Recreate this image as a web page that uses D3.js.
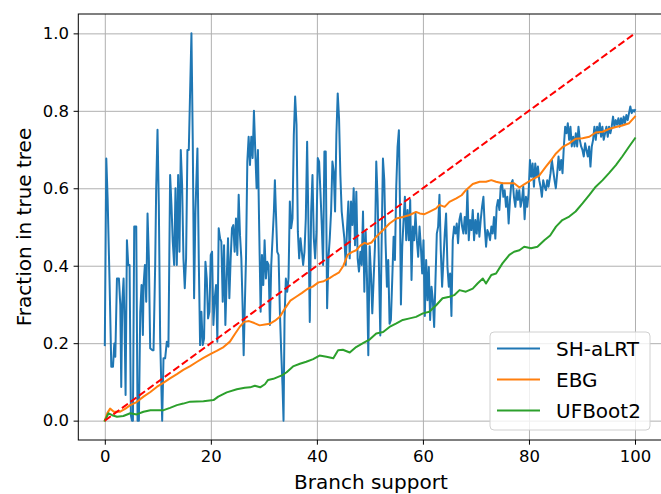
<!DOCTYPE html>
<html>
<head>
<meta charset="utf-8">
<script src="https://cdn.jsdelivr.net/npm/d3@7"></script>
<style>
  html, body { margin: 0; padding: 0; background: #fff; }
  svg { display: block; font-family: "DejaVu Sans", sans-serif; }
</style>
</head>
<body>
<svg id="chart" width="661" height="494"></svg>
<script>
// Branch support (x) vs fraction of branches found in the true tree (y)
const seriesNames = ["SH-aLRT", "EBG", "UFBoot2"];
const seriesColors = ["#1f77b4", "#ff7f0e", "#2ca02c"];
const xTicks = [0, 20, 40, 60, 80, 100];
const yTicks = [0.0, 0.2, 0.4, 0.6, 0.8, 1.0];

const shalrt = [
  [0,0.195],[0.28,0.677],[0.53,0.574],[0.91,0.35],[1.22,0.139],[1.54,0.139],[1.79,0.199],[1.98,0.165],[2.29,0.367],[2.66,0.367],
  [2.92,0.298],[3.1,0.087],[3.29,0.303],[3.54,0.367],[3.73,0.247],[3.92,0.066],[4.17,0.466],[4.42,0.402],[4.67,0.402],[4.92,0.014],
  [5.11,0],[5.3,0],[5.55,0.501],[5.93,0.501],[6.18,0],[6.43,0],[6.68,0.281],[6.93,0.35],[7.18,0.221],[7.31,0.35],
  [7.56,0.402],[7.81,0.307],[8.06,0.535],[8.31,0.419],[8.56,0.187],[8.94,0.182],[9.19,0.182],[9.5,0.402],[9.69,0.6],[9.94,0.751],
  [10.19,0.557],[10.44,0.212],[10.82,0],[11.07,0.161],[11.38,0.161],[11.7,0.204],[12.0,0.191],[12.32,0.634],[12.57,0.557],[12.82,0.462],
  [13.08,0.402],[13.33,0.6],[13.58,0.402],[13.83,0.634],[14.08,0.436],[14.33,0.699],[14.58,0.609],[14.83,0.419],[15.08,0.342],[15.33,0.419],
  [15.58,0.699],[15.84,0.699],[16.09,0.85],[16.34,1.0],[16.59,0.72],[16.84,0.316],[17.09,0.54],[17.47,0.703],[17.72,0.419],[17.97,0.195],
  [18.22,0.281],[18.47,0.195],[18.72,0.212],[18.98,0.41],[19.23,0.367],[19.48,0.264],[19.73,0.281],[19.98,0.428],[20.23,0.436],[20.48,0.247],
  [20.73,0.316],[20.98,0.35],[21.23,0.204],[21.48,0.497],[21.73,0.471],[21.98,0.462],[22.24,0.307],[22.49,0.453],[22.74,0.247],[22.99,0.367],
  [23.24,0.471],[23.49,0.316],[23.74,0.419],[23.99,0.497],[24.24,0.505],[24.49,0.436],[24.74,0.522],[24.99,0.428],[25.25,0.583],[25.5,0.479],
  [25.75,0.419],[26.0,0.29],[26.19,0.169],[26.38,0.281],[26.63,0.419],[26.88,0.669],[27.13,0.733],[27.38,0.66],[27.63,0.733],[27.88,0.678],
  [28.13,0.8],[28.38,0.695],[28.63,0.6],[28.88,0.699],[29.13,0.488],[29.39,0.281],[29.64,0.428],[29.89,0.35],[30.14,0.466],[30.39,0.367],
  [30.64,0.41],[30.89,0.402],[31.14,0.247],[31.39,0.402],[31.64,0.471],[31.89,0.54],[32.08,0.621],[32.27,0.54],[32.52,0.436],[32.77,0.428],
  [33.02,0.281],[33.27,0.178],[33.52,0.09],[33.71,0],[33.9,0.264],[34.15,0.367],[34.4,0.333],[34.65,0.367],[34.9,0.566],[35.15,0.497],
  [35.4,0.522],[35.65,0.738],[35.9,0.837],[36.16,0.764],[36.41,0.488],[36.66,0.419],[36.91,0.471],[37.16,0.436],[37.41,0.402],[37.66,0.436],
  [37.91,0.522],[38.16,0.72],[38.41,0.505],[38.66,0.255],[38.92,0.54],[39.17,0.634],[39.42,0.471],[39.67,0.419],[39.92,0.488],[40.17,0.678],
  [40.42,0.669],[40.67,0.591],[40.92,0.505],[41.17,0.402],[41.42,0.695],[41.67,0.695],[41.93,0.29],[42.18,0.419],[42.43,0.471],[42.68,0.54],
  [42.93,0.669],[43.18,0.643],[43.43,0.54],[43.68,0.738],[43.93,0.845],[44.18,0.781],[44.43,0.634],[44.68,0.54],[44.93,0.505],[45.18,0.471],
  [45.44,0.402],[45.69,0.497],[45.94,0.566],[46.19,0.419],[46.44,0.566],[46.69,0.505],[46.94,0.6],[47.19,0.453],[47.44,0.591],[47.69,0.419],
  [47.94,0.385],[48.2,0.436],[48.45,0.402],[48.7,0.54],[48.95,0.333],[49.2,0.488],[49.45,0.367],[49.7,0.169],[49.95,0.45],[50.2,0.38],
  [50.45,0.277],[50.7,0.363],[50.95,0.449],[51.2,0.669],[51.46,0.57],[51.71,0.397],[51.96,0.22],[52.21,0.458],[52.46,0.677],[52.71,0.621],
  [52.96,0.458],[53.21,0.346],[53.46,0.415],[53.71,0.25],[53.96,0.26],[54.21,0.363],[54.47,0.475],[54.72,0.415],[54.97,0.604],[55.22,0.707],
  [55.47,0.75],[55.66,0.57],[55.85,0.3],[56.1,0.449],[56.35,0.518],[56.6,0.578],[56.85,0.466],[57.1,0.544],[57.35,0.466],[57.6,0.57],
  [57.85,0.363],[58.1,0.501],[58.35,0.466],[58.6,0.535],[58.86,0.466],[59.11,0.423],[59.36,0.501],[59.61,0.449],[59.86,0.38],[60.11,0.466],
  [60.36,0.27],[60.61,0.415],[60.86,0.311],[61.11,0.397],[61.36,0.26],[61.62,0.346],[61.87,0.311],[62.12,0.242],[62.37,0.363],[62.62,0.483],
  [62.87,0.501],[63.12,0.583],[63.37,0.44],[63.62,0.346],[63.87,0.415],[64.12,0.483],[64.37,0.535],[64.63,0.397],[64.88,0.346],[65.13,0.38],
  [65.38,0.27],[65.63,0.466],[65.88,0.501],[66.13,0.483],[66.38,0.509],[66.63,0.458],[66.88,0.518],[67.13,0.535],[67.39,0.501],[67.64,0.483],
  [67.89,0.526],[68.14,0.483],[68.39,0.595],[68.65,0.466],[68.9,0.518],[69.15,0.492],[69.4,0.544],[69.65,0.466],[69.9,0.518],[70.15,0.483],
  [70.4,0.535],[70.65,0.475],[70.9,0.518],[71.15,0.552],[71.41,0.578],[71.66,0.501],[71.91,0.449],[72.16,0.492],[72.41,0.483],[72.66,0.466],
  [72.91,0.501],[73.16,0.483],[73.41,0.526],[73.66,0.47],[73.91,0.552],[74.16,0.57],[74.42,0.544],[74.67,0.604],[74.92,0.613],[75.17,0.578],
  [75.42,0.595],[75.67,0.552],[75.92,0.578],[76.17,0.509],[76.42,0.57],[76.67,0.613],[76.92,0.621],[77.17,0.578],[77.43,0.552],[77.68,0.595],
  [77.93,0.57],[78.18,0.595],[78.43,0.552],[78.68,0.57],[78.93,0.604],[79.18,0.52],[79.43,0.578],[79.68,0.552],[79.93,0.587],[80.19,0.673],
  [80.44,0.63],[80.69,0.664],[80.94,0.604],[81.19,0.664],[81.44,0.63],[81.69,0.656],[81.94,0.621],[82.19,0.604],[82.44,0.578],[82.69,0.621],
  [82.95,0.604],[83.2,0.595],[83.45,0.621],[83.7,0.604],[84.07,0.639],[84.32,0.673],[84.57,0.647],[84.82,0.621],[85.07,0.6],[85.33,0.639],
  [85.58,0.682],[85.83,0.647],[86.08,0.673],[86.33,0.639],[86.58,0.708],[86.83,0.759],[87.08,0.742],[87.33,0.768],[87.58,0.725],[87.83,0.759],
  [88.08,0.708],[88.34,0.733],[88.59,0.708],[88.84,0.742],[89.09,0.708],[89.34,0.759],[89.59,0.725],[89.84,0.708],[90.09,0.699],[90.34,0.682],
  [90.59,0.716],[90.84,0.699],[91.1,0.682],[91.35,0.708],[91.6,0.656],[91.85,0.708],[92.1,0.725],[92.35,0.759],[92.6,0.725],[92.85,0.759],
  [93.1,0.742],[93.35,0.768],[93.6,0.733],[93.85,0.759],[94.1,0.725],[94.36,0.742],[94.61,0.759],[94.86,0.733],[95.11,0.759],[95.36,0.742],
  [95.61,0.759],[95.86,0.785],[96.11,0.759],[96.36,0.776],[96.61,0.764],[96.87,0.781],[97.12,0.759],[97.37,0.781],[97.62,0.764],[97.87,0.785],
  [98.12,0.768],[98.37,0.789],[98.62,0.776],[98.87,0.794],[99.12,0.811],[99.37,0.794],[99.62,0.802],[99.87,0.798],[100,0.802]
];

const ebg = [
  [0,0],[0.5,0.02],[1,0.031],[1.7,0.023],[2.9,0.023],[3.9,0.031],[4.8,0.04],[6,0.048],[7.3,0.062],[8.6,0.074],
  [9.8,0.087],[11.1,0.098],[12.3,0.109],[13.6,0.12],[14.8,0.131],[16.1,0.141],[17.4,0.152],[18.6,0.162],[19.9,0.172],[21.1,0.18],
  [22.4,0.19],[23.6,0.204],[24.6,0.225],[25.5,0.243],[26.3,0.255],[27.2,0.257],[28.2,0.252],[29.2,0.246],[30.2,0.248],[31.1,0.25],
  [32.1,0.258],[33,0.268],[34,0.29],[35,0.31],[36.1,0.32],[37.2,0.33],[38.2,0.34],[39.2,0.346],[40.3,0.357],[41.3,0.36],
  [42.4,0.368],[43.3,0.376],[44.2,0.383],[45,0.4],[45.8,0.428],[46.6,0.435],[47.4,0.44],[48.2,0.452],[49,0.459],[49.6,0.456],
  [50.3,0.46],[51.2,0.475],[52.5,0.492],[53.7,0.509],[55,0.522],[56.2,0.526],[57.5,0.531],[58.7,0.539],[59.4,0.535],[60.3,0.533],
  [61.2,0.539],[62.5,0.548],[63.1,0.557],[64.1,0.552],[65,0.565],[66.3,0.574],[67.3,0.582],[68.1,0.595],[69.4,0.611],[70.7,0.617],
  [71.9,0.617],[72.9,0.621],[73.8,0.617],[75,0.613],[76.3,0.613],[77.2,0.613],[78.2,0.602],[79.1,0.61],[80.4,0.621],[81.9,0.632],
  [83.2,0.656],[84.2,0.673],[85.1,0.69],[86.3,0.706],[87.6,0.716],[88.8,0.728],[90.1,0.729],[91.4,0.733],[92.6,0.744],[93.9,0.746],
  [95.1,0.753],[96.4,0.758],[97.6,0.762],[98.9,0.768],[100,0.785]
];

const ufboot2 = [
  [0,0],[0.7,0.019],[1.4,0.014],[2.3,0.01],[3.5,0.012],[4.8,0.019],[6,0.016],[7.3,0.023],[8.6,0.027],[9.8,0.027],
  [11.1,0.027],[12.3,0.033],[13.6,0.04],[14.8,0.044],[16.1,0.049],[18.6,0.05],[20.5,0.053],[21.4,0.062],[23,0.073],[24.9,0.081],
  [26.4,0.085],[27.4,0.086],[28.3,0.09],[29.3,0.086],[30.2,0.094],[30.8,0.105],[31.8,0.108],[32.7,0.113],[33.4,0.117],[34.3,0.125],
  [35.5,0.14],[36.8,0.147],[38,0.152],[39.3,0.159],[40.5,0.168],[41.8,0.165],[43.1,0.161],[44,0.182],[44.9,0.183],[46.2,0.176],
  [47.4,0.19],[48.7,0.2],[50,0.21],[51.2,0.225],[52.5,0.229],[53.7,0.242],[55,0.251],[56.2,0.26],[57.5,0.264],[58.7,0.268],
  [60,0.277],[61.2,0.281],[62.5,0.298],[63.7,0.316],[65,0.32],[65.9,0.324],[66.9,0.337],[68.1,0.333],[69.4,0.341],[70.3,0.354],
  [71.3,0.367],[71.9,0.354],[72.9,0.376],[73.8,0.38],[75,0.406],[76.3,0.428],[77.2,0.436],[78.2,0.44],[79.1,0.449],[80.4,0.445],
  [81.6,0.449],[82.9,0.466],[84,0.478],[85.1,0.501],[86.3,0.518],[87.6,0.527],[88.8,0.54],[90.1,0.561],[91.4,0.583],[92.6,0.604],
  [93.9,0.621],[95.1,0.639],[96.4,0.66],[97.6,0.682],[98.9,0.708],[100,0.729]
];

// perfect calibration reference
const diagonal = [[0, 0], [100, 1]];

const svg = d3.select("#chart");
const plot = { left: 78.3, right: 661.5, top: 14, bottom: 440 };

const x = d3.scaleLinear().domain([-5, 105]).range([plot.left, plot.right]);
const y = d3.scaleLinear().domain([-0.05, 1.05]).range([plot.bottom, plot.top]);

svg.append("defs").append("clipPath").attr("id", "plotclip")
  .append("rect")
  .attr("x", plot.left).attr("y", plot.top)
  .attr("width", plot.right - plot.left).attr("height", plot.bottom - plot.top);

// grid
const grid = svg.append("g").attr("class", "grid");
grid.append("g")
  .attr("transform", `translate(0,${plot.bottom})`)
  .call(d3.axisBottom(x).tickValues(xTicks).tickSize(-(plot.bottom - plot.top)).tickFormat(""))
  .call(g => g.select(".domain").remove())
  .call(g => g.selectAll("line").attr("stroke", "#b0b0b0").attr("stroke-width", 1));
grid.append("g")
  .attr("transform", `translate(${plot.left},0)`)
  .call(d3.axisLeft(y).tickValues(yTicks).tickSize(-(plot.right - plot.left)).tickFormat(""))
  .call(g => g.select(".domain").remove())
  .call(g => g.selectAll("line").attr("stroke", "#b0b0b0").attr("stroke-width", 1));

// series
const line = d3.line().x(d => x(d[0])).y(d => y(d[1]));
const lines = svg.append("g").attr("clip-path", "url(#plotclip)");
[shalrt, ebg, ufboot2].forEach((data, i) => {
  lines.append("path")
    .datum(data)
    .attr("d", line)
    .attr("fill", "none")
    .attr("stroke", seriesColors[i])
    .attr("stroke-width", 2)
    .attr("stroke-linejoin", "round")
    .attr("stroke-linecap", "square");
});
lines.append("path")
  .datum(diagonal)
  .attr("d", line)
  .attr("fill", "none")
  .attr("stroke", "#ff0000")
  .attr("stroke-width", 2)
  .attr("stroke-dasharray", "7.4,3.2");

// axes
const tickFont = 16.5;
const xAxis = svg.append("g")
  .attr("transform", `translate(0,${plot.bottom})`)
  .call(d3.axisBottom(x).tickValues(xTicks).tickSize(4.7).tickPadding(5.5).tickFormat(d3.format("d")));
const yAxis = svg.append("g")
  .attr("transform", `translate(${plot.left},0)`)
  .call(d3.axisLeft(y).tickValues(yTicks).tickSize(4.7).tickPadding(4.5).tickFormat(d3.format(".1f")));
[xAxis, yAxis].forEach(ax => {
  ax.select(".domain").remove();
  ax.selectAll("line").attr("stroke", "#000").attr("stroke-width", 1);
  ax.selectAll("text")
    .attr("fill", "#000")
    .style("font-family", "'DejaVu Sans', sans-serif")
    .style("font-size", tickFont + "px");
});

// frame
svg.append("rect")
  .attr("x", plot.left).attr("y", plot.top)
  .attr("width", plot.right - plot.left).attr("height", plot.bottom - plot.top)
  .attr("fill", "none").attr("stroke", "#000").attr("stroke-width", 1);

// axis titles
svg.append("text")
  .attr("x", (plot.left + plot.right) / 2 + 1)
  .attr("y", 489)
  .attr("text-anchor", "middle")
  .style("font-size", "20px")
  .text("Branch support");
svg.append("text")
  .attr("transform", `translate(31,${(plot.top + plot.bottom) / 2}) rotate(-90)`)
  .attr("text-anchor", "middle")
  .style("font-size", "20px")
  .text("Fraction in true tree");

// legend
const legend = svg.append("g");
legend.append("rect")
  .attr("x", 490).attr("y", 332).attr("width", 160).attr("height", 98)
  .attr("rx", 4).attr("ry", 4)
  .attr("fill", "#fff").attr("fill-opacity", 0.8)
  .attr("stroke", "#d0d0d0").attr("stroke-width", 1);
seriesNames.forEach((name, i) => {
  const ly = 348.5 + i * 31;
  legend.append("line")
    .attr("x1", 497).attr("x2", 540).attr("y1", ly).attr("y2", ly)
    .attr("stroke", seriesColors[i]).attr("stroke-width", 2);
  legend.append("text")
    .attr("x", 556).attr("y", ly).attr("dy", "0.36em")
    .style("font-size", "20px")
    .text(name);
});
</script>
</body>
</html>
